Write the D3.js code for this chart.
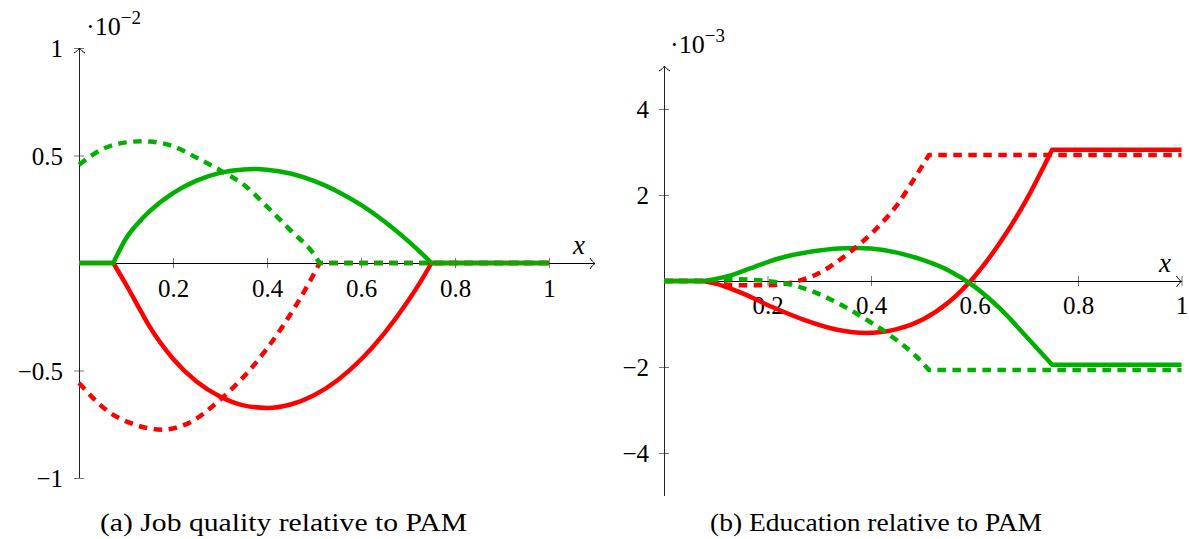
<!DOCTYPE html>
<html>
<head>
<meta charset="utf-8">
<script src="https://cdn.jsdelivr.net/npm/d3@7"></script>
<style>
  html, body { margin: 0; padding: 0; background: #fff; }
  svg text { font-family: "Liberation Serif", "Tinos", "Times New Roman", "DejaVu Serif", "Noto Serif", serif; }
</style>
</head>
<body>
<svg id="chart" width="1189" height="539"></svg>
<script>
// Tick positions on the x axis, shared by both panels
const xTicks = [0.2, 0.4, 0.6, 0.8, 1];
const xTickLabels = ["0.2", "0.4", "0.6", "0.8", "1"];

// (a) Job quality relative to PAM, values in units of 10^-2
const jobYTicks = [-1, -0.5, 0.5, 1];
const jobYTickLabels = ["−1", "−0.5", "0.5", "1"];
const jobCorners = [0.073, 0.512, 0.75];
const jobGreenSolid = [[0, 0], [0.073, 0], [0.1, 0.114], [0.125, 0.184], [0.15, 0.24], [0.2, 0.325],
  [0.25, 0.383], [0.3, 0.419], [0.35, 0.435], [0.375, 0.437], [0.4, 0.434], [0.45, 0.416], [0.5, 0.382],
  [0.55, 0.333], [0.6, 0.27], [0.65, 0.193], [0.7, 0.103], [0.73, 0.043], [0.75, 0], [1, 0]];
const jobRedSolid = [[0, 0], [0.073, 0], [0.1, -0.1], [0.133, -0.23], [0.15, -0.295], [0.2, -0.445],
  [0.25, -0.551], [0.3, -0.621], [0.35, -0.662], [0.4, -0.674], [0.45, -0.658], [0.5, -0.615],
  [0.55, -0.545], [0.6, -0.449], [0.65, -0.326], [0.7, -0.177], [0.73, -0.075], [0.75, 0], [1, 0]];
const jobGreenDashed = [[0, 0.457], [0.05, 0.53], [0.1, 0.561], [0.133, 0.566], [0.15, 0.565],
  [0.2, 0.543], [0.25, 0.49], [0.3, 0.432], [0.35, 0.365], [0.4, 0.262], [0.45, 0.152], [0.5, 0.04],
  [0.512, 0], [1, 0]];
const jobRedDashed = [[0, -0.558], [0.062, -0.69], [0.119, -0.752], [0.176, -0.775], [0.24, -0.737],
  [0.296, -0.644], [0.367, -0.488], [0.431, -0.302], [0.495, -0.07], [0.512, 0], [1, 0]];

// (b) Education relative to PAM, values in units of 10^-3
const eduYTicks = [-4, -2, 2, 4];
const eduYTickLabels = ["−4", "−2", "2", "4"];
const eduCorners = [0.075, 0.512, 0.75];
const eduGreenSolid = [[0, 0], [0.075, 0], [0.1, 0.05], [0.125, 0.12], [0.15, 0.22], [0.175, 0.33],
  [0.2, 0.44], [0.225, 0.535], [0.25, 0.61], [0.275, 0.665], [0.3, 0.71], [0.325, 0.743], [0.35, 0.763],
  [0.375, 0.77], [0.4, 0.755], [0.45, 0.66], [0.5, 0.49], [0.55, 0.245], [0.6, -0.13], [0.65, -0.65],
  [0.7, -1.29], [0.75, -1.95], [1, -1.95]];
const eduRedSolid = [[0, 0], [0.075, 0], [0.1, -0.06], [0.144, -0.248], [0.208, -0.6], [0.272, -0.91],
  [0.337, -1.14], [0.39, -1.21], [0.45, -1.12], [0.5, -0.895], [0.55, -0.495], [0.6, 0.105], [0.65, 0.905],
  [0.7, 1.88], [0.75, 3.05], [1, 3.05]];
const eduGreenDashed = [[0, 0], [0.075, 0], [0.13, 0.04], [0.2, 0], [0.26, -0.13], [0.324, -0.44],
  [0.382, -0.83], [0.44, -1.29], [0.488, -1.76], [0.512, -2.07], [1, -2.07]];
const eduRedDashed = [[0, 0], [0.075, 0], [0.15, -0.1], [0.2, -0.1], [0.24, -0.05], [0.292, 0.14],
  [0.356, 0.64], [0.408, 1.19], [0.453, 1.81], [0.482, 2.35], [0.512, 2.93], [1, 2.93]];

const GREEN = "#00b000";
const RED = "#ff0000";
const LINE_W = 4.5;
const DASH = "8.5,6.5";

const svg = d3.select("#chart");

// Smooth path through the points, keeping sharp corners at the given x values
function seriesPath(points, corners, x, y) {
  const runs = [];
  let cur = [points[0]];
  for (let i = 1; i < points.length; i++) {
    cur.push(points[i]);
    if (corners.includes(points[i][0]) && i < points.length - 1) {
      runs.push(cur);
      cur = [points[i]];
    }
  }
  runs.push(cur);
  const line = d3.line().x(d => x(d[0])).y(d => y(d[1])).curve(d3.curveMonotoneX);
  return runs.map((r, i) => {
    const s = line(r);
    return i === 0 ? s : "L" + s.slice(1);
  }).join("");
}

// Open TikZ-style arrow tip pointing along +x, tip at the origin
const ARROW = "M-5,-5.5 C-3.6,-3 -1.6,-0.9 0,0 C-1.6,0.9 -3.6,3 -5,5.5";

function drawPanel(p) {
  const x = d3.scaleLinear().domain([0, 1]).range(p.xRange);
  const y = d3.scaleLinear().domain(p.yDomain).range(p.yRange);
  const g = svg.append("g");
  const y0 = y(0);

  // x axis ticks and labels
  const gx = g.append("g")
    .attr("transform", `translate(0,${y0})`)
    .call(d3.axisBottom(x).tickValues(xTicks).tickFormat((d, i) => xTickLabels[i])
      .tickSizeInner(5).tickSizeOuter(0));
  gx.attr("font-family", null).attr("font-size", null);
  gx.select(".domain").remove();
  gx.selectAll(".tick line").attr("y1", -5).attr("y2", 5).attr("stroke", "#777");
  gx.selectAll(".tick text").attr("y", p.xLabelDy).attr("dy", 0)
    .attr("font-size", 25).attr("fill", "#000");

  // y axis ticks and labels
  const gy = g.append("g")
    .attr("transform", `translate(${x(0)},0)`)
    .call(d3.axisLeft(y).tickValues(p.yTicks).tickFormat((d, i) => p.yTickLabels[i])
      .tickSizeInner(5).tickSizeOuter(0));
  gy.attr("font-family", null).attr("font-size", null);
  gy.select(".domain").remove();
  gy.selectAll(".tick line").attr("x1", -5).attr("x2", 5).attr("stroke", "#777");
  gy.selectAll(".tick text").attr("x", -p.yLabelGap).attr("dy", "0.34em")
    .attr("font-size", 25).attr("fill", "#000");

  // axis lines with arrow tips
  const xEnd = x(p.xAxisEnd);
  g.append("line").attr("x1", x(0)).attr("x2", xEnd).attr("y1", y0 + 0.5).attr("y2", y0 + 0.5)
    .attr("stroke", "#000").attr("stroke-width", 1);
  g.append("path").attr("d", ARROW).attr("transform", `translate(${xEnd},${y0 + 0.5})`)
    .attr("fill", "none").attr("stroke", "#000").attr("stroke-width", 1);
  const yTop = y(p.yDomain[1]);
  g.append("line").attr("x1", x(0) + 0.5).attr("x2", x(0) + 0.5)
    .attr("y1", y(p.yDomain[0])).attr("y2", yTop)
    .attr("stroke", "#222").attr("stroke-width", 1);
  g.append("path").attr("d", ARROW).attr("transform", `translate(${x(0) + 0.5},${yTop}) rotate(-90)`)
    .attr("fill", "none").attr("stroke", "#000").attr("stroke-width", 1);

  // axis name
  g.append("text").attr("x", p.xNamePos[0]).attr("y", p.xNamePos[1])
    .attr("font-size", 27).attr("font-style", "italic").attr("text-anchor", "middle").text("x");

  // scale factor above the y axis
  const ex = g.append("text").attr("x", p.expPos[0]).attr("y", p.expPos[1]).attr("font-size", 26);
  ex.append("tspan").text("·10");
  ex.append("tspan").attr("font-size", 19).attr("dy", -11).text(p.exponent);

  // curves
  p.series.forEach(s => {
    g.append("path")
      .attr("d", seriesPath(s.data, p.corners, x, y))
      .attr("fill", "none")
      .attr("stroke", s.color)
      .attr("stroke-width", LINE_W)
      .attr("stroke-linejoin", "round")
      .attr("stroke-dasharray", s.dashed ? DASH : null);
  });

  // caption
  g.append("text").attr("x", p.captionPos[0]).attr("y", p.captionPos[1])
    .attr("font-size", 25).attr("text-anchor", "middle")
    .attr("textLength", p.captionWidth).attr("lengthAdjust", "spacingAndGlyphs")
    .text(p.caption);
}

drawPanel({
  xRange: [79, 549], xAxisEnd: 1.098,
  yDomain: [-1, 1], yRange: [478, 48],
  yTicks: jobYTicks, yTickLabels: jobYTickLabels,
  xLabelDy: 34, yLabelGap: 16,
  xNamePos: [579, 254], expPos: [86, 35], exponent: "−2",
  corners: jobCorners,
  series: [
    { data: jobRedSolid, color: RED, dashed: false },
    { data: jobGreenSolid, color: GREEN, dashed: false },
    { data: jobRedDashed, color: RED, dashed: true },
    { data: jobGreenDashed, color: GREEN, dashed: true }
  ],
  caption: "(a) Job quality relative to PAM", captionPos: [283.5, 531], captionWidth: 367
});

drawPanel({
  xRange: [664, 1181.5], xAxisEnd: 1,
  yDomain: [-5, 5], yRange: [496, 66],
  yTicks: eduYTicks, yTickLabels: eduYTickLabels,
  xLabelDy: 33, yLabelGap: 15,
  xNamePos: [1165, 272], expPos: [670, 53], exponent: "−3",
  corners: eduCorners,
  series: [
    { data: eduRedSolid, color: RED, dashed: false },
    { data: eduGreenSolid, color: GREEN, dashed: false },
    { data: eduRedDashed, color: RED, dashed: true },
    { data: eduGreenDashed, color: GREEN, dashed: true }
  ],
  caption: "(b) Education relative to PAM", captionPos: [876, 531], captionWidth: 332
});
</script>
</body>
</html>
